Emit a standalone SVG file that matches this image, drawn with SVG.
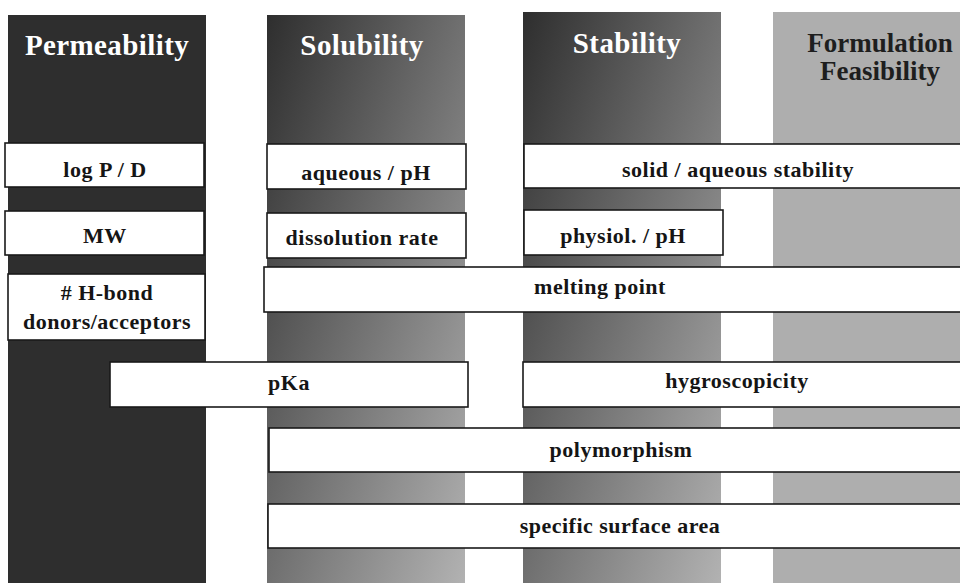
<svg xmlns="http://www.w3.org/2000/svg" width="960" height="583" viewBox="0 0 960 583">
<defs>
<linearGradient id="grad" x1="0" y1="0" x2="1" y2="1">
<stop offset="0" stop-color="#2e2e2e"/>
<stop offset="1" stop-color="#b2b2b2"/>
</linearGradient>
<style>
.title{font-family:"Liberation Serif","Times New Roman",serif;font-weight:bold;font-size:29px;letter-spacing:0.4px;fill:#ffffff;text-anchor:middle}
.title2{font-family:"Liberation Serif","Times New Roman",serif;font-weight:bold;font-size:27px;fill:#1e1e1e;text-anchor:middle}
.box{fill:#ffffff;stroke:#1a1a1a;stroke-width:1.6}
.lbl{font-family:"Liberation Serif","Times New Roman",serif;font-weight:bold;font-size:22px;letter-spacing:0.5px;fill:#151515;text-anchor:middle}
</style>
</defs>
<rect width="960" height="583" fill="#ffffff"/>
<g id="col-permeability">
<rect x="8" y="15" width="198" height="568" fill="#2e2e2e"/>
<text class="title" x="107" y="55">Permeability</text>
</g>
<g id="col-solubility">
<rect x="267" y="15" width="198" height="568" fill="url(#grad)"/>
<text class="title" x="362" y="55">Solubility</text>
</g>
<g id="col-stability">
<rect x="523" y="12" width="198" height="571" fill="url(#grad)"/>
<text class="title" x="627" y="53">Stability</text>
</g>
<g id="col-formulation">
<rect x="773" y="12" width="190" height="571" fill="#aeaeae"/>
<text class="title2" x="880" y="52">Formulation</text>
<text class="title2" x="880" y="80">Feasibility</text>
</g>
<g id="n-logp">
<rect class="box" x="5" y="143" width="199" height="44"/>
<text class="lbl" x="105" y="177">log P / D</text>
</g>
<g id="n-aqueous">
<rect class="box" x="267" y="144" width="199" height="45"/>
<text class="lbl" x="366" y="180">aqueous / pH</text>
</g>
<g id="n-solid">
<rect class="box" x="524" y="144" width="450" height="44"/>
<text class="lbl" x="738" y="177">solid / aqueous stability</text>
</g>
<g id="n-mw">
<rect class="box" x="5" y="211" width="199" height="44"/>
<text class="lbl" x="105" y="243">MW</text>
</g>
<g id="n-dissolution">
<rect class="box" x="267" y="213" width="199" height="45"/>
<text class="lbl" x="362" y="245">dissolution rate</text>
</g>
<g id="n-physiol">
<rect class="box" x="524" y="210" width="199" height="45"/>
<text class="lbl" x="623" y="243">physiol. / pH</text>
</g>
<g id="n-hbond">
<rect class="box" x="8" y="274" width="197" height="66"/>
<text class="lbl" x="107" y="300"># H-bond</text>
<text class="lbl" x="107" y="329">donors/acceptors</text>
</g>
<g id="n-melting">
<rect class="box" x="264" y="267" width="710" height="45"/>
<text class="lbl" x="600" y="294">melting point</text>
</g>
<g id="n-pka">
<rect class="box" x="110" y="362" width="358" height="45"/>
<text class="lbl" x="289" y="390">pKa</text>
</g>
<g id="n-hygro">
<rect class="box" x="523" y="362" width="450" height="45"/>
<text class="lbl" x="737" y="388">hygroscopicity</text>
</g>
<g id="n-poly">
<rect class="box" x="269" y="428" width="705" height="44"/>
<text class="lbl" x="621" y="457">polymorphism</text>
</g>
<g id="n-ssa">
<rect class="box" x="268" y="504" width="706" height="44"/>
<text class="lbl" x="620" y="533">specific surface area</text>
</g>
<g id="connectors"></g>
</svg>
